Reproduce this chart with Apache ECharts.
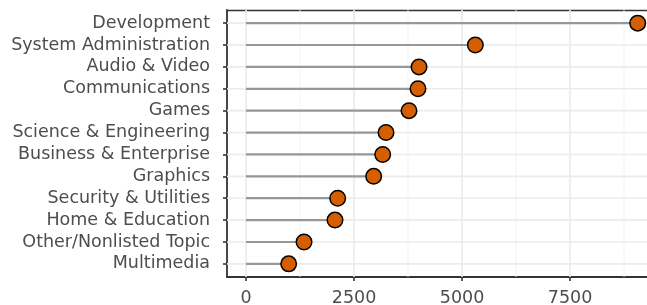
<!DOCTYPE html>
<html>
<head>
<meta charset="utf-8">
<script src="https://cdn.jsdelivr.net/npm/echarts@6/dist/echarts.min.js"></script>
<style>
  html, body { margin: 0; padding: 0; background: #fff; }
  #chart { width: 647px; height: 305px; }
</style>
</head>
<body>
<div id="chart"></div>
<script>
// categories top to bottom
const categories = [
  'Development', 'System Administration', 'Audio & Video', 'Communications',
  'Games', 'Science & Engineering', 'Business & Enterprise', 'Graphics',
  'Security & Utilities', 'Home & Education', 'Other/Nonlisted Topic', 'Multimedia'
];
const counts = [9067, 5308, 4005, 3981, 3773, 3241, 3164, 2955, 2122, 2060, 1343, 988];
const xTicks = [0, 2500, 5000, 7500];
const xMinor = [1250, 3750, 6250, 8750];

// panel is cut off at the right edge of the picture
const X_MIN = -440, X_MAX = 9282;
const Y_MIN = -0.6, Y_MAX = categories.length - 1 + 0.6;
const rowIdx = categories.map((c, i) => i);

const chart = echarts.init(document.getElementById('chart'));

// vertical grid line through x value
function vLine(color, width) {
  return function (params, api) {
    const a = api.coord([api.value(0), Y_MIN]);
    const b = api.coord([api.value(0), Y_MAX]);
    return { type: 'line', shape: { x1: a[0], y1: a[1], x2: b[0], y2: b[1] },
             style: { stroke: color, lineWidth: width } };
  };
}

const labelFont = { color: '#4d4d4d', fontSize: 17.5, fontFamily: 'DejaVu Sans' };
const axisStroke = { color: '#333', width: 1.8 };

const option = {
  animation: false,
  backgroundColor: '#fff',
  grid: { left: 227, top: 10, bottom: 28, right: 0, containLabel: false, outerBoundsMode: 'none' },
  xAxis: [
    {
      type: 'value',
      min: X_MIN, max: X_MAX,
      axisLine: { show: true, onZero: false, lineStyle: axisStroke },
      axisTick: { show: true, customValues: xTicks, length: 4, lineStyle: { color: '#333', width: 1.6 } },
      axisLabel: Object.assign({ customValues: xTicks, margin: 12, formatter: v => String(v) }, labelFont),
      splitLine: { show: false }
    },
    {
      // top border of the panel
      type: 'value', position: 'top',
      min: X_MIN, max: X_MAX,
      axisLine: { show: true, onZero: false, lineStyle: { color: '#333', width: 1.4 } },
      axisTick: { show: false }, axisLabel: { show: false }, splitLine: { show: false }
    }
  ],
  yAxis: {
    type: 'value',
    min: Y_MIN, max: Y_MAX,
    inverse: true,
    axisLine: { show: true, onZero: false, lineStyle: axisStroke },
    axisTick: { show: true, customValues: rowIdx, length: 4, lineStyle: { color: '#333', width: 1.6 } },
    axisLabel: Object.assign({ customValues: rowIdx, margin: 17, formatter: v => categories[Math.round(v)] }, labelFont),
    splitLine: { show: false }
  },
  series: [
    {
      type: 'custom', z: 1, silent: true,
      data: xMinor.map(v => [v, 0]),
      renderItem: vLine('#f2f2f2', 0.9)
    },
    {
      type: 'custom', z: 1, silent: true,
      data: xTicks.map(v => [v, 0]),
      renderItem: vLine('#ebebeb', 1.6)
    },
    {
      type: 'custom', z: 1, silent: true,
      data: rowIdx.map(i => [0, i]),
      renderItem: function (params, api) {
        const a = api.coord([X_MIN, api.value(1)]);
        const b = api.coord([X_MAX, api.value(1)]);
        return { type: 'line', shape: { x1: a[0], y1: a[1], x2: b[0], y2: b[1] },
                 style: { stroke: '#ebebeb', lineWidth: 1.6 } };
      }
    },
    {
      // stems
      type: 'custom', z: 2, silent: true,
      data: counts.map((v, i) => [v, i]),
      renderItem: function (params, api) {
        const a = api.coord([0, api.value(1)]);
        const b = api.coord([api.value(0), api.value(1)]);
        return { type: 'line', shape: { x1: a[0], y1: a[1], x2: b[0], y2: b[1] },
                 style: { stroke: '#979797', lineWidth: 2.2 } };
      }
    },
    {
      type: 'scatter', z: 3,
      data: counts.map((v, i) => [v, i]),
      symbolSize: 15.5,
      itemStyle: { color: '#D55E00', borderColor: '#000', borderWidth: 1.5, opacity: 1 }
    }
  ]
};
chart.setOption(option);
</script>
</body>
</html>
